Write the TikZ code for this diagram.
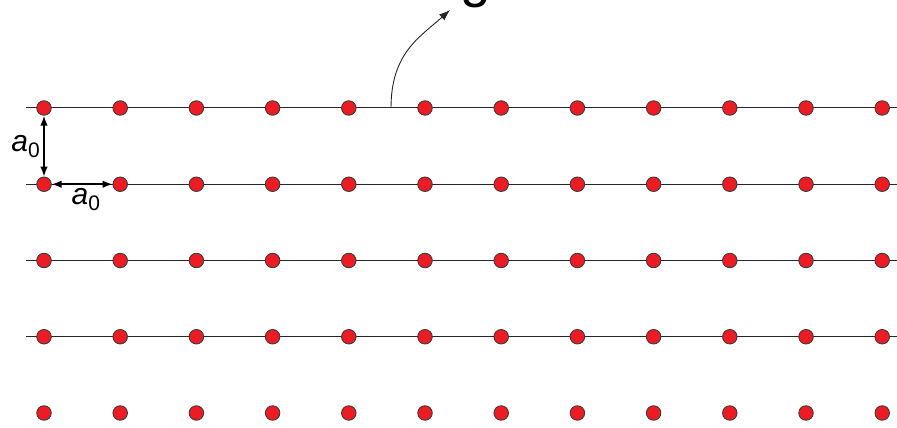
\documentclass[tikz,border=0pt]{standalone}
\usepackage{fontspec}
\setmainfont{Liberation Sans}
\setsansfont{Liberation Sans}
\usetikzlibrary{arrows.meta, positioning}

\definecolor{atomred}{HTML}{ED1C24}
\definecolor{atomrim}{HTML}{3C3C3C}

\begin{document}
\begin{tikzpicture}[
    x=1pt, y=1pt,
    atom/.style={circle, draw=atomrim, fill=atomred, line width=0.9pt, minimum size=14.5pt, inner sep=0pt},
    rowline/.style={line width=1pt, draw=black!85},
    spacing/.style={{Latex[length=10pt,width=7.5pt]}-{Latex[length=10pt,width=7.5pt]}, line width=1.5pt},
    pointer/.style={-{Latex[length=11pt,width=8pt]}, line width=0.9pt, draw=black!85},
    lbl/.style={font=\fontsize{30}{32}\selectfont\itshape, inner sep=0pt},
    title/.style={font=\fontsize{55}{60}\selectfont, inner sep=0pt}
]
\useasboundingbox (0,0) rectangle (897,428);

\foreach \j in {0,...,3} {
  \coordinate (l\j) at (26, 320-76.25*\j);
  \coordinate (r\j) at (897, 320-76.25*\j);
  \draw [rowline] (l\j) -- (r\j);
}

\foreach \i in {0,...,11}
  \foreach \j in {0,...,4}
    \node (a-\i-\j) [atom] at (44+76.2*\i, 320-76.25*\j) {};

\draw [spacing] (a-0-0) -- node [lbl, left=3pt] {a\textsubscript{\upshape 0}} (a-0-1);
\draw [spacing] (a-0-1) -- node [lbl, below=3pt, xshift=4pt] {a\textsubscript{\upshape 0}} (a-1-1);

\node (field) [title, anchor=base] at (450,431) {Uniform magnetic field};
\coordinate (hit) at (391,320);
\coordinate (tip) at (450,418);
\draw [pointer] (hit) .. controls +(0,55) and +(-30,-27) .. (tip);

\end{tikzpicture}
\end{document}
